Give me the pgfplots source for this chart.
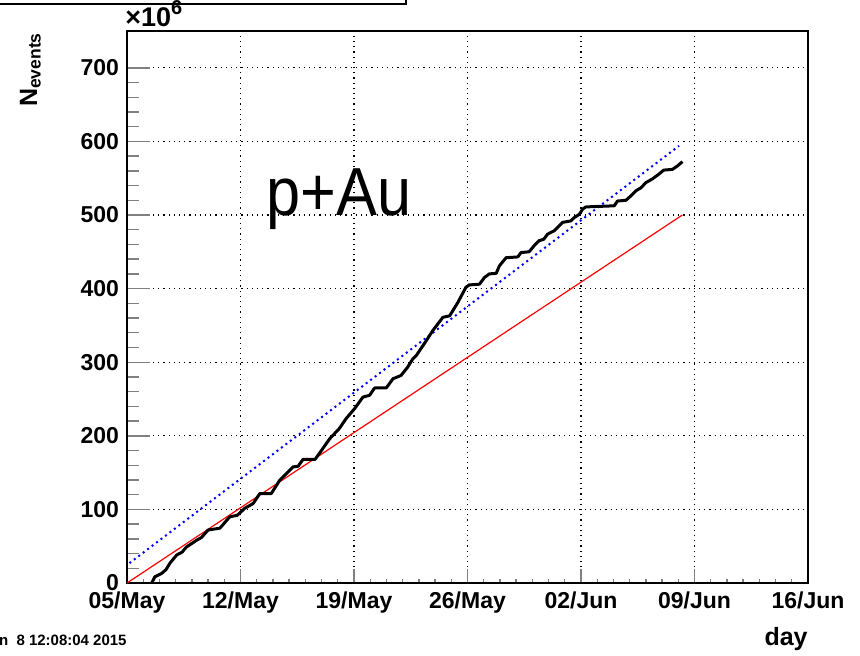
\documentclass[border=0pt]{standalone}
\usepackage{fontspec}
\setmainfont{Liberation Sans}
\usepackage{pgfplots}
\pgfplotsset{compat=1.18}
\begin{document}
\begin{tikzpicture}
\useasboundingbox (0,0) rectangle (430pt,327.5pt);
\clip (0,0) rectangle (430pt,327.5pt);
\begin{axis}[
  at={(63.5pt,36pt)}, anchor=south west,
  scale only axis, width=340.5pt, height=276pt,
  xmin=0, xmax=42, ymin=0, ymax=750,
  xtick={0,7,14,21,28,35,42},
  xticklabels={05/May,12/May,19/May,26/May,02/Jun,09/Jun,16/Jun},
  ytick={0,100,200,300,400,500,600,700},
  minor x tick num=6, minor y tick num=4,
  tick align=inside, xtick pos=bottom, ytick pos=left,
  xtick style={/pgfplots/major tick length=7pt,/pgfplots/minor tick length=2pt,line width=0.7pt},
  ytick style={/pgfplots/major tick length=11.5pt,/pgfplots/minor tick length=6pt,line width=0.7pt},
  axis line style={line width=1pt},
  grid=major,
  major grid style={black, line width=0.6pt, dash pattern=on 0.6pt off 2pt},
  /pgf/number format/assume math mode=true,
  ticklabel style={font=\fontsize{11.5}{12}\selectfont\bfseries},
  xticklabel style={yshift=-1pt},
  yticklabel style={xshift=-0.5pt},
]
\addplot[red, line width=0.6pt] coordinates {(0,0) (34.25,500)};
\addplot[blue, line width=1pt, dash pattern=on 1pt off 1.8pt] coordinates {(0.15,27) (34.05,594)};
\addplot[black, line width=1.5pt, line join=round] coordinates {
(1.52,0) (1.62,4) (1.72,8.5) (2.13,13) (2.4,18) (2.65,27) (3.06,38) (3.4,42) (3.67,49)
(4.29,58) (4.6,62) (5.0,72) (5.73,74.5) (6.34,90) (6.8,92) (7.27,101.6) (7.78,108)
(8.19,121.6) (8.9,121.6) (9.42,139.6) (10.24,157.7) (10.55,158.6) (10.86,168) (11.6,168)
(11.99,180) (12.5,196) (13.1,210) (13.5,223) (14.04,237) (14.55,252.6) (14.96,255)
(15.27,265) (15.99,265) (16.4,277.5) (16.9,282) (17.3,293) (17.63,304.6) (17.84,309)
(18.45,329) (18.86,343) (19.48,361) (19.9,363) (20.4,381) (20.9,401.7) (21.1,405)
(21.74,406) (22.04,415) (22.35,420) (22.77,420.7) (22.97,431) (23.38,442) (24.1,443)
(24.3,449) (24.8,450) (25.1,458) (25.4,465) (25.7,467) (25.94,474) (26.35,478.6)
(26.87,490) (27.38,492) (27.59,496.6) (27.9,501) (28.1,508) (28.3,511) (30.05,512.5)
(30.25,519) (30.77,520) (31.08,526) (31.39,533) (31.7,537) (32.0,544) (32.4,549)
(32.8,555.5) (33.1,561) (33.64,562) (33.95,566.7) (34.26,572.5)};
\end{axis}
% p+Au label
\node[anchor=base west, inner sep=0, xscale=0.9] at (133.3pt,220pt) {\fontsize{34}{34}\selectfont p+Au};
% y axis label
\node[rotate=90, anchor=base east, inner sep=0] at (18.5pt,311.5pt) {\fontsize{12.5}{12.5}\selectfont\bfseries N\textsubscript{events}};
% multiplier
\node[anchor=base west, inner sep=0] at (62.5pt,314pt) {\fontsize{13.5}{13.5}\selectfont\bfseries ×10\raisebox{6.5pt}{\fontsize{10}{10}\selectfont 6}};
% x axis label
\node[anchor=base east, inner sep=0] at (404pt,5pt) {\fontsize{12.5}{12.5}\selectfont\bfseries day};
% date stamp
\node[anchor=base east, inner sep=0] at (63.5pt,5pt) {\fontsize{7.5}{8}\selectfont\bfseries Mon Jun\ \ 8 12:08:04 2015};
% cut-off title box
\draw[line width=1pt] (-2pt,325.5pt) -- (203pt,325.5pt) -- (203pt,330pt);
\end{tikzpicture}
\end{document}
